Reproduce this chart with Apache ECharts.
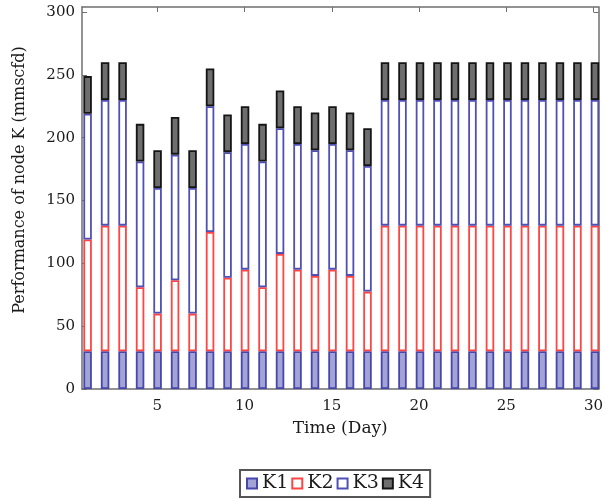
<!DOCTYPE html>
<html>
<head>
<meta charset="utf-8">
<script src="https://cdn.jsdelivr.net/npm/echarts@6/dist/echarts.min.js"></script>
<style>html,body{margin:0;padding:0;background:#fff}#c{width:606px;height:500px}</style>
</head>
<body>
<div id="c"></div>
<script>
const days = [1,2,3,4,5,6,7,8,9,10,11,12,13,14,15,16,17,18,19,20,21,22,23,24,25,26,27,28,29,30];
const K1 = [30,30,30,30,30,30,30,30,30,30,30,30,30,30,30,30,30,30,30,30,30,30,30,30,30,30,30,30,30,30];
const K2 = [89,100,100,51,30,56.5,30,95,58.5,65,51,77.5,65,60,65,60,47.5,100,100,100,100,100,100,100,100,100,100,100,100,100];
const K3 = [100,100,100,100,100,100,100,100,100,100,100,100,100,100,100,100,100,100,100,100,100,100,100,100,100,100,100,100,100,100];
const K4 = [30,30,30,30,30,30,30,30,30,30,30,30,30,30,30,30,30,30,30,30,30,30,30,30,30,30,30,30,30,30];
const xTicks = [5,10,15,20,25,30];
const yTicks = [0,50,100,150,200,250,300];

const font = 'DejaVu Serif';
const txt = '#1a1a1a';
const axisCol = '#6f6f6f';
const X_MIN = 0.68, X_MAX = 30.29, Y_MAX = 304;
const PL = 82, PT = 7, PW = 518, PH = 382;
// bar grid: category bands aligned so that band centres fall on the day values of the frame axis
const pxPerDay = PW / (X_MAX - X_MIN);
const barLeft = PL + (1 - X_MIN) * pxPerDay - pxPerDay / 2;
const barWidthGrid = pxPerDay * days.length;

const chart = echarts.init(document.getElementById('c'), null, {renderer:'canvas'});
const frameLine = {show:true, onZero:false, lineStyle:{color:axisCol, width:1.5}};
function bar(name, data, color, border){
  return {name, type:'bar', stack:'k', data:data, barWidth:8.5, xAxisIndex:2, yAxisIndex:2,
    itemStyle:{color, borderColor:border, borderWidth:1.8}, emphasis:{disabled:true}, animation:false};
}
chart.setOption({
  animation:false,
  grid:[
    {left:PL, top:PT, width:PW, height:PH, containLabel:false},
    {left:barLeft, top:PT, width:barWidthGrid, height:PH, containLabel:false}
  ],
  xAxis:[
    {type:'value', gridIndex:0, position:'bottom', min:X_MIN, max:X_MAX, splitLine:{show:false},
      axisLine:frameLine,
      axisTick:{show:true, inside:true, length:5, customValues:xTicks, lineStyle:{color:axisCol}},
      name:'Time (Day)', nameLocation:'middle', nameGap:31,
      nameTextStyle:{fontFamily:font, fontSize:17, color:txt},
      axisLabel:{show:true, customValues:xTicks, margin:10, fontFamily:font, fontSize:15, color:txt}},
    {type:'value', gridIndex:0, position:'top', min:X_MIN, max:X_MAX, splitLine:{show:false},
      axisLine:frameLine,
      axisTick:{show:true, inside:true, length:5, customValues:xTicks, lineStyle:{color:axisCol}},
      axisLabel:{show:false}},
    {type:'category', gridIndex:1, data:days, boundaryGap:true, show:false}
  ],
  yAxis:[
    {type:'value', gridIndex:0, position:'left', min:0, max:Y_MAX, splitLine:{show:false},
      axisLine:frameLine,
      axisTick:{show:true, inside:true, length:5, customValues:yTicks, lineStyle:{color:axisCol}},
      name:'Performance of node K (mmscfd)', nameLocation:'middle', nameGap:54, nameRotate:90,
      nameTextStyle:{fontFamily:font, fontSize:16, color:txt, padding:[0,0,0,36]},
      axisLabel:{show:true, customValues:yTicks, margin:7, fontFamily:font, fontSize:15, color:txt}},
    {type:'value', gridIndex:0, position:'right', min:0, max:Y_MAX, splitLine:{show:false},
      axisLine:frameLine,
      axisTick:{show:true, inside:true, length:5, customValues:yTicks, lineStyle:{color:axisCol}},
      axisLabel:{show:false}},
    {type:'value', gridIndex:1, min:0, max:Y_MAX, show:false}
  ],
  legend:{
    left:240, top:470, orient:'horizontal', itemWidth:10, itemHeight:10, itemGap:3,
    padding:[4,6,4,6], borderColor:'#555', borderWidth:2, icon:'rect',
    textStyle:{fontFamily:font, fontSize:19, color:txt},
    data:['K1','K2','K3','K4']
  },
  series:[
    bar('K1', K1, '#a3a3d6', '#4646ad'),
    bar('K2', K2, '#ffffff', '#ff4444'),
    bar('K3', K3, '#ffffff', '#5050b4'),
    bar('K4', K4, '#6e6e6e', '#151515')
  ]
});
</script>
</body>
</html>
